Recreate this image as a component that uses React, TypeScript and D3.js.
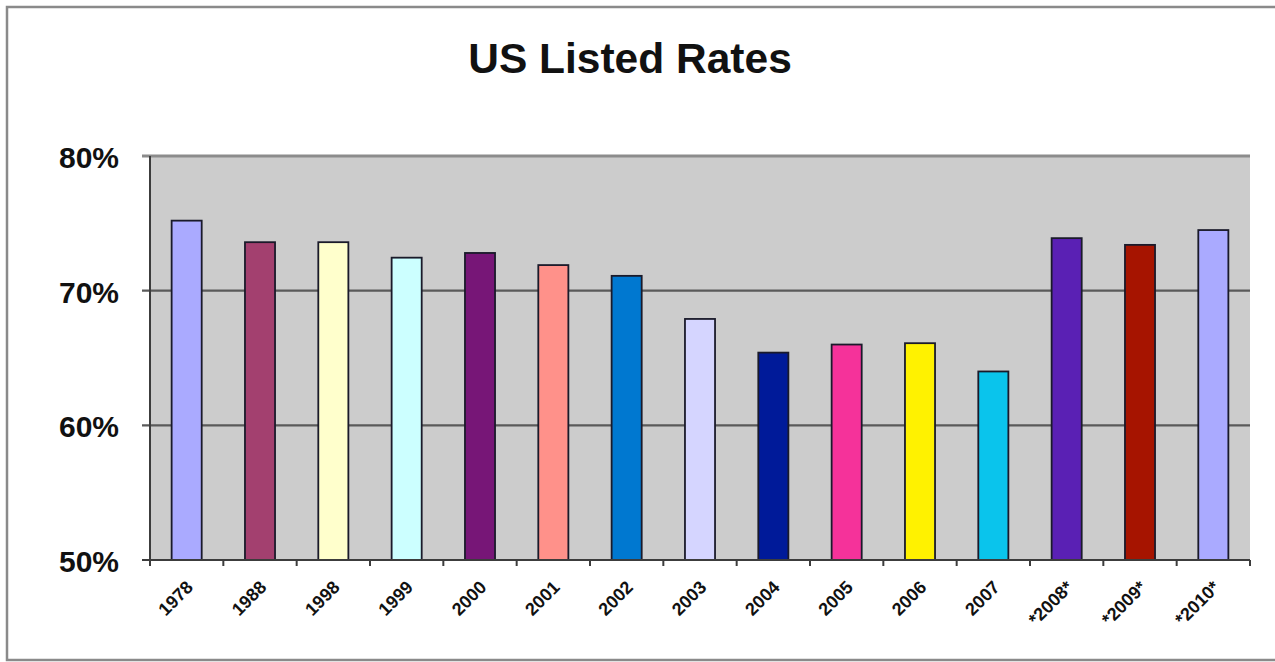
import React, { useEffect, useRef } from "react";
import * as d3 from "d3";

const categories = ["1978", "1988", "1998", "1999", "2000", "2001", "2002", "2003", "2004", "2005", "2006", "2007", "*2008*", "*2009*", "*2010*"];
const rates = [75.2, 73.6, 73.6, 72.45, 72.8, 71.9, 71.1, 67.9, 65.4, 66.0, 66.1, 64.0, 73.9, 73.4, 74.5];
const barColors = ["#aaaaff", "#a3406f", "#ffffcc", "#ccffff", "#771677", "#ff918a", "#0078d0", "#d5d5ff", "#001a99", "#f5329a", "#fff200", "#0ac4ec", "#5a20b4", "#a61400", "#aaaaff"];
const yTicks = [50, 60, 70, 80];
const title = "US Listed Rates";

const W = 1275;
const H = 662;
const plot = { left: 150, right: 1250, top: 156, bottom: 560 };

export default function App() {
  const ref = useRef<SVGSVGElement | null>(null);

  useEffect(() => {
    const svg = d3.select(ref.current);
    svg.selectAll("*").remove();
    const font = "'Liberation Sans', Arial, Helvetica, sans-serif";

    const x = d3.scaleBand<string>().domain(categories).range([plot.left, plot.right]).paddingInner(0.59).paddingOuter(0.295);
    const y = d3.scaleLinear().domain([50, 80]).range([plot.bottom, plot.top]);

    svg.append("rect").attr("width", W).attr("height", H).attr("fill", "#ffffff");
    // outer frame
    svg.append("path")
      .attr("d", `M${W + 5},7 L7,7 L7,660 L${W + 5},660`)
      .attr("fill", "none").attr("stroke", "#8a8a8a").attr("stroke-width", 2.5);

    svg.append("text").attr("x", 630).attr("y", 73).attr("text-anchor", "middle")
      .attr("font-family", font).attr("font-weight", "bold").attr("font-size", 42.5).attr("fill", "#111")
      .text(title);

    // plot background
    svg.append("rect").attr("x", plot.left).attr("y", plot.top)
      .attr("width", plot.right - plot.left).attr("height", plot.bottom - plot.top).attr("fill", "#cccccc");

    // gridlines
    const g = svg.append("g");
    yTicks.filter(t => t > 50).forEach(t => {
      g.append("line").attr("x1", plot.left - 8).attr("x2", plot.right)
        .attr("y1", y(t)).attr("y2", y(t))
        .attr("stroke", t === 80 ? "#8c8c8c" : "#5a5a5a").attr("stroke-width", t === 80 ? 3 : 2.2);
    });

    // bars
    svg.append("g").selectAll("rect").data(rates).join("rect")
      .attr("x", (_, i) => x(categories[i])!)
      .attr("y", d => y(d))
      .attr("width", x.bandwidth())
      .attr("height", d => plot.bottom - y(d))
      .attr("fill", (_, i) => barColors[i])
      .attr("stroke", "#1a1a2a").attr("stroke-width", 1.8);

    // axes lines
    svg.append("line").attr("x1", plot.left).attr("x2", plot.left).attr("y1", plot.top).attr("y2", plot.bottom + 1)
      .attr("stroke", "#3c3c3c").attr("stroke-width", 2);
    svg.append("line").attr("x1", plot.left - 8).attr("x2", plot.right).attr("y1", plot.bottom).attr("y2", plot.bottom)
      .attr("stroke", "#3c3c3c").attr("stroke-width", 2);
    // x ticks between categories
    const step = x.step();
    for (let i = 0; i <= categories.length; i++) {
      const tx = plot.left + i * step;
      svg.append("line").attr("x1", tx).attr("x2", tx).attr("y1", plot.bottom).attr("y2", plot.bottom + 6)
        .attr("stroke", "#3c3c3c").attr("stroke-width", 2);
    }

    // y labels
    yTicks.forEach(t => {
      svg.append("text").attr("x", 119).attr("y", y(t)).attr("dy", "0.4em").attr("text-anchor", "end")
        .attr("font-family", font).attr("font-weight", "bold").attr("font-size", 30).attr("fill", "#111")
        .text(`${t}%`);
    });

    // x labels
    categories.forEach(c => {
      const cx = x(c)! + x.bandwidth() / 2 + 3;
      const cy = plot.bottom + 24;
      svg.append("text").attr("transform", `translate(${cx},${cy}) rotate(-45)`)
        .attr("text-anchor", "end").attr("dy", "0.35em")
        .attr("font-family", font).attr("font-weight", "bold").attr("font-size", 18).attr("fill", "#111")
        .text(c);
    });
  }, []);

  return (
    <svg ref={ref} width={W} height={H} style={{ position: "absolute", left: 0, top: 0, display: "block" }} />
  );
}
